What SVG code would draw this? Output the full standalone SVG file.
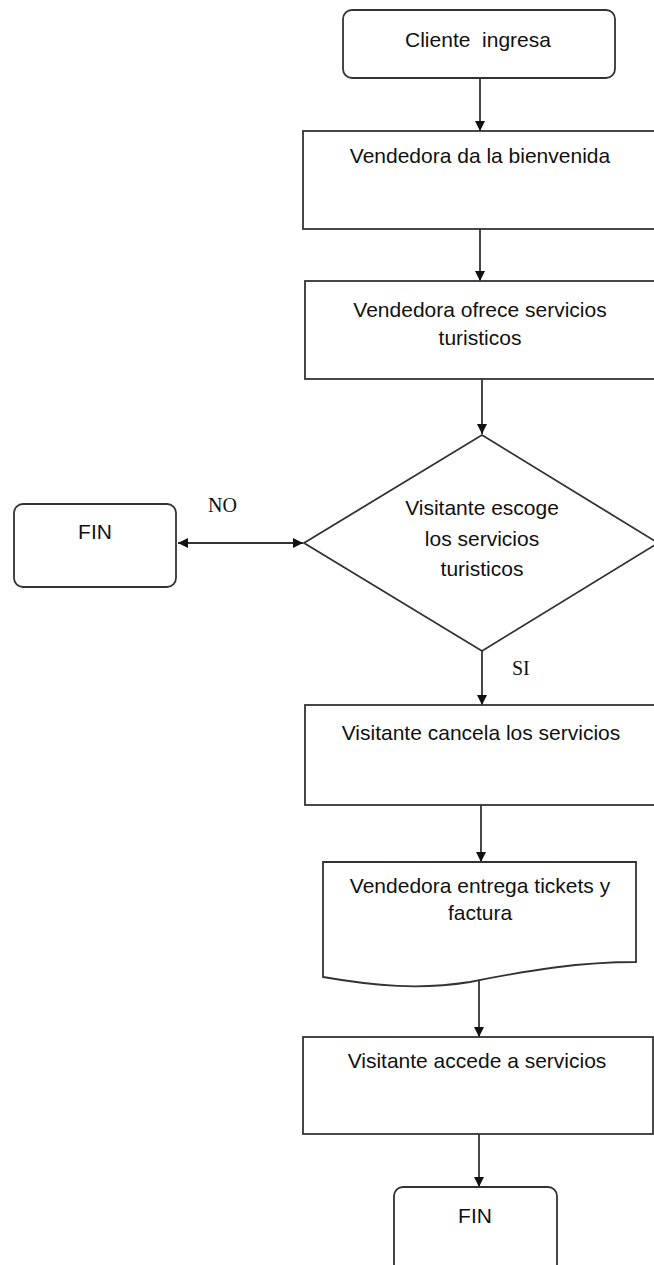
<svg xmlns="http://www.w3.org/2000/svg" width="654" height="1265" viewBox="0 0 654 1265">
<style>
.s{fill:#fff;stroke:#333;stroke-width:1.8}
.t{font-family:"Liberation Sans",Arial,sans-serif;font-size:21px;fill:#111;text-anchor:middle}
.r{font-family:"Liberation Serif","Times New Roman",serif;font-size:20px;fill:#111}
.c{fill:none;stroke:#333;stroke-width:1.8}
</style>
<defs>
<marker id="ah" viewBox="0 0 10 10" refX="10" refY="5" markerWidth="10" markerHeight="10" markerUnits="userSpaceOnUse" orient="auto-start-reverse">
<path d="M0,0 L10,5 L0,10 Z" fill="#111"/>
</marker>
</defs>
<rect x="0" y="0" width="654" height="1265" fill="#fff"/>
<g id="connectors">
<line class="c" x1="480" y1="78" x2="480" y2="131" marker-end="url(#ah)"/>
<line class="c" x1="480" y1="229" x2="480" y2="281" marker-end="url(#ah)"/>
<line class="c" x1="482" y1="379" x2="482" y2="434" marker-end="url(#ah)"/>
<line class="c" x1="178" y1="543" x2="303" y2="543" marker-start="url(#ah)" marker-end="url(#ah)"/>
<line class="c" x1="482" y1="651" x2="482" y2="705" marker-end="url(#ah)"/>
<line class="c" x1="481" y1="805" x2="481" y2="862" marker-end="url(#ah)"/>
<line class="c" x1="479" y1="981" x2="479" y2="1037" marker-end="url(#ah)"/>
<line class="c" x1="479" y1="1134" x2="479" y2="1187" marker-end="url(#ah)"/>
<text class="r" x="208" y="512">NO</text>
<text class="r" x="512" y="675">SI</text>
</g>
<g id="n1">
<rect class="s" x="343" y="10" width="272" height="68" rx="9"/>
<text class="t" x="478" y="47" xml:space="preserve">Cliente  ingresa</text>
</g>
<g id="n2">
<rect class="s" x="303" y="131" width="354" height="98"/>
<text class="t" x="480" y="163">Vendedora da la bienvenida</text>
</g>
<g id="n3">
<rect class="s" x="305" y="281" width="352" height="98"/>
<text class="t" x="480" y="317">Vendedora ofrece servicios</text>
<text class="t" x="480" y="345">turisticos</text>
</g>
<g id="n4">
<polygon class="s" points="482,435 658,543 482,651 304,543"/>
<text class="t" x="482" y="515">Visitante escoge</text>
<text class="t" x="482" y="546">los servicios</text>
<text class="t" x="482" y="576">turisticos</text>
</g>
<g id="n5">
<rect class="s" x="14" y="504" width="162" height="83" rx="9"/>
<text class="t" x="95" y="539">FIN</text>
</g>
<g id="n6">
<rect class="s" x="305" y="705" width="352" height="100"/>
<text class="t" x="481" y="740">Visitante cancela los servicios</text>
</g>
<g id="n7">
<path class="s" d="M323,862 H636 V962 C580,962 530,970 470,982 C420,990 375,986 323,977 Z"/>
<text class="t" x="480" y="893">Vendedora entrega tickets y</text>
<text class="t" x="480" y="920">factura</text>
</g>
<g id="n8">
<rect class="s" x="303" y="1037" width="350" height="97"/>
<text class="t" x="477" y="1068">Visitante accede a servicios</text>
</g>
<g id="n9">
<rect class="s" x="394" y="1187" width="163" height="90" rx="9"/>
<text class="t" x="475" y="1223">FIN</text>
</g>
</svg>
